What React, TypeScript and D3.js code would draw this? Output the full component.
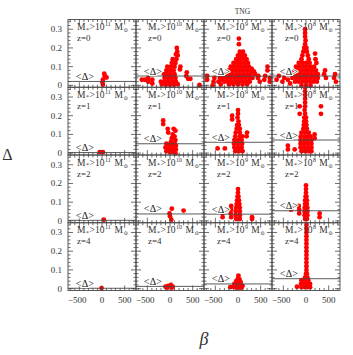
import React from 'react';
import * as d3 from 'd3';

// panel headers
const massExps = ['11', '10', '9', '8'];
const redshifts = ['0', '1', '2', '4'];
const xTickLabels = [-500, 0, 500];
const yTickLabels = [0, 0.1, 0.2, 0.3];

// mean Delta per panel (row = redshift, col = mass cut)
const meanZ0 = [0.021, 0.05, 0.049, 0.05];
const meanZ1 = [0.003, 0.05, 0.058, 0.07];
const meanZ2 = [0.003, 0.037, 0.036, 0.054];
const meanZ4 = [0.002, 0.012, 0.025, 0.053];

// [beta, Delta]
const z0m11 = [[50, 0.062], [60, 0.05], [100, 0.042], [20, 0.03], [10, 0.015], [20, 0.004]];
const z0m10 = [
  [150, 0.2], [160, 0.18], [130, 0.165], [170, 0.16],
  [60, 0.14], [140, 0.14], [40, 0.12], [120, 0.12],
  [-60, 0.1], [20, 0.1], [100, 0.1], [-80, 0.08], [0, 0.08], [80, 0.08], [-60, 0.06], [20, 0.06], [100, 0.06],
  [-120, 0.04], [-40, 0.04], [40, 0.04], [120, 0.04],
  [-110, 0.02], [-30, 0.02], [50, 0.02], [130, 0.02], [-90, 0.003], [0, 0.003], [90, 0.003], [170, 0.006],
  [220, 0.085], [230, 0.1], [370, 0.07], [360, 0.05], [400, 0.035], [450, 0.035],
  [-130, 0.06], [-550, 0.03], [-480, 0.02], [-480, 0.04], [-390, 0.01], [-390, 0.03], [-200, 0.02], [-180, 0.005],
  [-620, 0.03], [650, 0.002],
];
const z0m9 = [
  [20, 0.25], [20, 0.22],
  [40, 0.18], [110, 0.18], [0, 0.16], [80, 0.16], [150, 0.16],
  [-40, 0.14], [40, 0.14], [120, 0.14], [190, 0.14],
  [-100, 0.12], [-20, 0.12], [60, 0.12], [140, 0.12], [220, 0.12],
  [-160, 0.1], [-80, 0.1], [0, 0.1], [80, 0.1], [160, 0.1], [240, 0.1], [300, 0.09],
  [-200, 0.08], [-120, 0.08], [-40, 0.08], [40, 0.08], [120, 0.08], [200, 0.08], [280, 0.08], [350, 0.075],
  [-280, 0.06], [-200, 0.06], [-120, 0.06], [-40, 0.06], [40, 0.06], [120, 0.06], [200, 0.06], [280, 0.06], [380, 0.06],
  [-400, 0.04], [-320, 0.04], [-240, 0.04], [-160, 0.04], [-80, 0.04], [0, 0.04], [80, 0.04], [160, 0.04], [240, 0.04], [320, 0.04], [440, 0.04],
  [-300, 0.02], [-220, 0.02], [-140, 0.02], [-60, 0.02], [20, 0.02], [100, 0.02], [180, 0.02], [260, 0.02],
  [-200, 0.005], [-100, 0.005], [0, 0.005], [100, 0.005], [200, 0.005],
  [-680, 0.03], [-680, 0.05], [-540, 0.02], [-520, 0.04], [-430, 0.02], [-380, 0.03], [-380, 0.005], [-560, 0.0],
  [450, 0.05], [480, 0.02], [580, 0.03], [600, 0.05], [650, 0.08], [650, 0.1], [700, 0.02], [700, 0.04],
];
const z0m8 = [
  [-20, 0.3], [-20, 0.28], [-20, 0.26], [-10, 0.24], [-20, 0.22], [-40, 0.2], [10, 0.2], [-60, 0.18], [20, 0.18],
  [-80, 0.16], [40, 0.16], [-100, 0.14], [60, 0.14],
  [-160, 0.12], [-80, 0.12], [0, 0.12], [80, 0.12],
  [-220, 0.1], [-140, 0.1], [-60, 0.1], [20, 0.1], [100, 0.1], [180, 0.1],
  [-260, 0.08], [-180, 0.08], [-100, 0.08], [-20, 0.08], [60, 0.08], [140, 0.08], [220, 0.08],
  [-280, 0.06], [-200, 0.06], [-120, 0.06], [-40, 0.06], [40, 0.06], [120, 0.06], [200, 0.06], [260, 0.06],
  [-300, 0.04], [-220, 0.04], [-140, 0.04], [-60, 0.04], [20, 0.04], [100, 0.04], [180, 0.04], [260, 0.04],
  [-240, 0.02], [-160, 0.02], [-80, 0.02], [0, 0.02], [80, 0.02], [160, 0.02], [240, 0.02],
  [-100, 0.0], [0, 0.0], [100, 0.0],
  [200, 0.17], [210, 0.14], [230, 0.12],
  [-650, 0.03], [-600, 0.05], [-520, 0.02], [-480, 0.04], [-400, 0.03], [-350, 0.01],
  [400, 0.06], [420, 0.08], [440, 0.04], [620, 0.04], [640, 0.06], [660, 0.02],
];

const z1m11 = [[-50, 0.005], [20, 0.005]];
const z1m10 = [
  [-150, 0.175], [-150, 0.155], [-50, 0.13], [-40, 0.11], [80, 0.13], [120, 0.12], [60, 0.1], [100, 0.09],
  [40, 0.08], [120, 0.07], [20, 0.06], [100, 0.055], [-80, 0.05], [-20, 0.045], [60, 0.04], [130, 0.04],
  [-100, 0.03], [-20, 0.025], [60, 0.02], [130, 0.02], [-80, 0.01], [0, 0.005], [80, 0.005], [120, 0.0],
];
const z1m9 = [
  [-130, 0.2], [-130, 0.18], [0, 0.23], [0, 0.21], [-10, 0.19], [10, 0.17], [-20, 0.15], [20, 0.15],
  [-30, 0.13], [40, 0.13], [-50, 0.11], [40, 0.11], [-60, 0.09], [40, 0.09], [100, 0.09],
  [-80, 0.07], [0, 0.07], [80, 0.07], [-90, 0.05], [0, 0.05], [90, 0.05], [-80, 0.03], [0, 0.03], [80, 0.03],
  [-60, 0.01], [20, 0.01], [100, 0.01], [200, 0.11], [190, 0.09], [-450, 0.025], [-290, 0.025],
];
const z1m8 = [
  [-20, 0.35], [-20, 0.33], [-20, 0.31], [-20, 0.29], [-20, 0.27], [-20, 0.25], [-30, 0.23], [-20, 0.21],
  [-40, 0.19], [0, 0.19], [-40, 0.17], [0, 0.17], [-50, 0.15], [10, 0.15], [-60, 0.13], [20, 0.13],
  [-100, 0.11], [-20, 0.11], [60, 0.11], [-120, 0.09], [-40, 0.09], [40, 0.09], [100, 0.09],
  [-120, 0.07], [-40, 0.07], [40, 0.07], [120, 0.07], [-120, 0.05], [-40, 0.05], [40, 0.05], [120, 0.05],
  [-120, 0.03], [-40, 0.03], [40, 0.03], [120, 0.03], [-100, 0.01], [-20, 0.01], [60, 0.01], [120, 0.01],
  [-140, 0.25], [-140, 0.21], [330, 0.25], [330, 0.21], [190, 0.1], [190, 0.08],
  [-400, 0.04], [-400, 0.02], [-250, 0.02],
];

const z2m11 = [[40, 0.006]];
const z2m10 = [[40, 0.065], [-10, 0.04], [0, 0.025], [30, 0.006], [300, 0.055]];
const z2m9 = [
  [0, 0.17], [0, 0.15], [-10, 0.13], [10, 0.13], [-20, 0.11], [20, 0.11], [-30, 0.09], [30, 0.09],
  [-40, 0.07], [40, 0.07], [-50, 0.05], [40, 0.05], [-50, 0.03], [40, 0.03], [-40, 0.01], [40, 0.01],
  [-150, 0.08], [-150, 0.06], [-160, 0.04], [-150, 0.02], [-340, 0.04], [-340, 0.02], [310, 0.02], [310, 0.01],
];
const z2m8 = [
  [0, 0.19], [0, 0.17], [0, 0.15], [-10, 0.13], [10, 0.13], [-20, 0.11], [20, 0.11], [-20, 0.09], [20, 0.09],
  [-30, 0.07], [30, 0.07], [-30, 0.05], [30, 0.05], [-30, 0.03], [30, 0.03], [-20, 0.01], [20, 0.01],
  [-160, 0.08], [-150, 0.06], [-150, 0.04], [-330, 0.07], [-330, 0.06], [300, 0.04], [300, 0.02],
];

const z4m11 = [[-10, 0.003]];
const z4m10 = [[-100, 0.01], [-40, 0.015], [20, 0.02], [60, 0.01], [-60, 0.005], [40, 0.005]];
const z4m9 = [
  [10, 0.07], [0, 0.055], [30, 0.05], [-40, 0.04], [0, 0.035], [60, 0.035], [-80, 0.025], [-20, 0.02],
  [40, 0.02], [100, 0.015], [-100, 0.01], [-40, 0.005], [20, 0.005], [80, 0.005], [-170, 0.008],
];
const z4m8 = [
  [10, 0.36], [10, 0.34], [10, 0.32], [10, 0.3], [10, 0.28], [10, 0.26], [10, 0.24], [10, 0.22], [10, 0.2],
  [10, 0.18], [10, 0.16], [10, 0.14], [10, 0.12], [10, 0.1], [0, 0.08], [20, 0.08], [-20, 0.06], [30, 0.06],
  [-100, 0.045], [-40, 0.04], [50, 0.045], [-110, 0.025], [-40, 0.025], [40, 0.025], [90, 0.025],
  [-100, 0.008], [-30, 0.008], [40, 0.008], [90, 0.008], [-200, 0.01],
];

const grid = [
  [z0m11, z0m10, z0m9, z0m8],
  [z1m11, z1m10, z1m9, z1m8],
  [z2m11, z2m10, z2m9, z2m8],
  [z4m11, z4m10, z4m9, z4m8],
];
const means = [meanZ0, meanZ1, meanZ2, meanZ4];

const left = 68;
const top = 19.5;
const pw = 68;
const ph = 67.75;
const axisColor = '#484848';
const font = '"Liberation Serif", "DejaVu Serif", serif';

const x = d3.scaleLinear().domain([-750, 750]).range([0, pw]);
const y = d3.scaleLinear().domain([-0.01, 0.352]).range([ph, 0]);
const xMinor = d3.range(-700, 701, 100);
const yMinor = d3.range(0, 0.341, 0.02);

function Ticks() {
  return (
    <g stroke={axisColor} strokeWidth={0.8}>
      {xMinor.map(v => {
        const len = v % 500 === 0 ? 5 : 2.5;
        return (
          <g key={'x' + v}>
            <line x1={x(v)} x2={x(v)} y1={ph} y2={ph - len} />
            <line x1={x(v)} x2={x(v)} y1={0} y2={len} />
          </g>
        );
      })}
      {yMinor.map((v, i) => {
        const len = i % 5 === 0 ? 5 : 2.5;
        return (
          <g key={'y' + i}>
            <line x1={0} x2={len} y1={y(v)} y2={y(v)} />
            <line x1={pw} x2={pw - len} y1={y(v)} y2={y(v)} />
          </g>
        );
      })}
    </g>
  );
}

const labelStart = [9, 12, 13, 13];

// "M* > 10^n M(sun)" built from separate pieces so nothing overlaps
function MassLabel({ x0, exp }) {
  const supX = x0 + 28;
  const m2X = supX + exp.length * 3.2 + 3;
  return (
    <g fill="#333" fontFamily={font}>
      <text x={x0} y={10.5} fontSize={9.5}>M</text>
      <text x={x0 + 9} y={12} fontSize={6}>*</text>
      <text x={x0 + 12.6} y={10.5} fontSize={9.5}>&gt;10</text>
      <text x={supX} y={6.5} fontSize={6}>{exp}</text>
      <text x={m2X} y={10.5} fontSize={9.5}>M</text>
      <text x={m2X + 9} y={12.5} fontSize={5.5}>⊙</text>
    </g>
  );
}

function Panel({ row, col }) {
  const pts = grid[row][col];
  const mean = means[row][col];
  const id = `clip-${row}-${col}`;
  const lx = labelStart[col];
  return (
    <g transform={`translate(${left + col * pw},${top + row * ph})`}>
      <clipPath id={id}>
        <rect x={0} y={0} width={pw} height={ph + 2} />
      </clipPath>
      <g clipPath={`url(#${id})`}>
        {pts.map(([b, d], i) => (
          <circle key={i} cx={x(b)} cy={y(d)} r={2.4} fill="#ff0000" />
        ))}
      </g>
      <line x1={0} x2={pw} y1={y(mean)} y2={y(mean)} stroke={axisColor} strokeWidth={0.9} />
      <Ticks />
      <rect x={0} y={0} width={pw} height={ph} fill="none" stroke={axisColor} strokeWidth={0.9} />
      <MassLabel x0={lx} exp={massExps[col]} />
      <text x={lx} y={21.5} fontSize={9} fill="#333" fontFamily={font}>
        z={redshifts[row]}
      </text>
      <text
        x={x(-580)}
        y={y(mean) - 1.5}
        fontSize={10}
        fill="#111"
        fontFamily={font}
        stroke="#fff"
        strokeWidth={2}
        paintOrder="stroke"
        letterSpacing={0.3}
      >
        &lt;Δ&gt;
      </text>
    </g>
  );
}

export default function App() {
  const rows = [0, 1, 2, 3];
  const cols = [0, 1, 2, 3];
  const bottom = top + 4 * ph;
  return (
    <svg
      width={353}
      height={355}
      style={{ position: 'absolute', left: 0, top: 0, background: '#fff' }}
      fontFamily={font}
    >
      <rect width={353} height={355} fill="#fff" />
      {rows.map(r => cols.map(c => <Panel key={`${r}-${c}`} row={r} col={c} />))}
      {rows.map(r =>
        yTickLabels.map(v => (
          <text
            key={`yl-${r}-${v}`}
            x={left - 6}
            y={top + r * ph + y(v) + 3}
            textAnchor="end"
            fontSize={9}
            fill="#333"
          >
            {v === 0 ? '0' : v.toFixed(1)}
          </text>
        ))
      )}
      {cols.map(c =>
        xTickLabels.map(v => (
          <text
            key={`xl-${c}-${v}`}
            x={left + c * pw + x(v) + (v < 0 ? -2 : 0)}
            y={bottom + 12}
            textAnchor="middle"
            fontSize={9}
            fill="#333"
          >
            {v < 0 ? '\u2212' + Math.abs(v) : v}
          </text>
        ))
      )}
      <text x={242.5} y={13.5} textAnchor="middle" fontSize={7.5} fill="#333">
        TNG
      </text>
      <text x={7.5} y={160} textAnchor="middle" fontSize={16} fill="#333">
        Δ
      </text>
      <text x={204} y={345} textAnchor="middle" fontSize={18} fill="#333" fontStyle="italic">
        β
      </text>
    </svg>
  );
}
